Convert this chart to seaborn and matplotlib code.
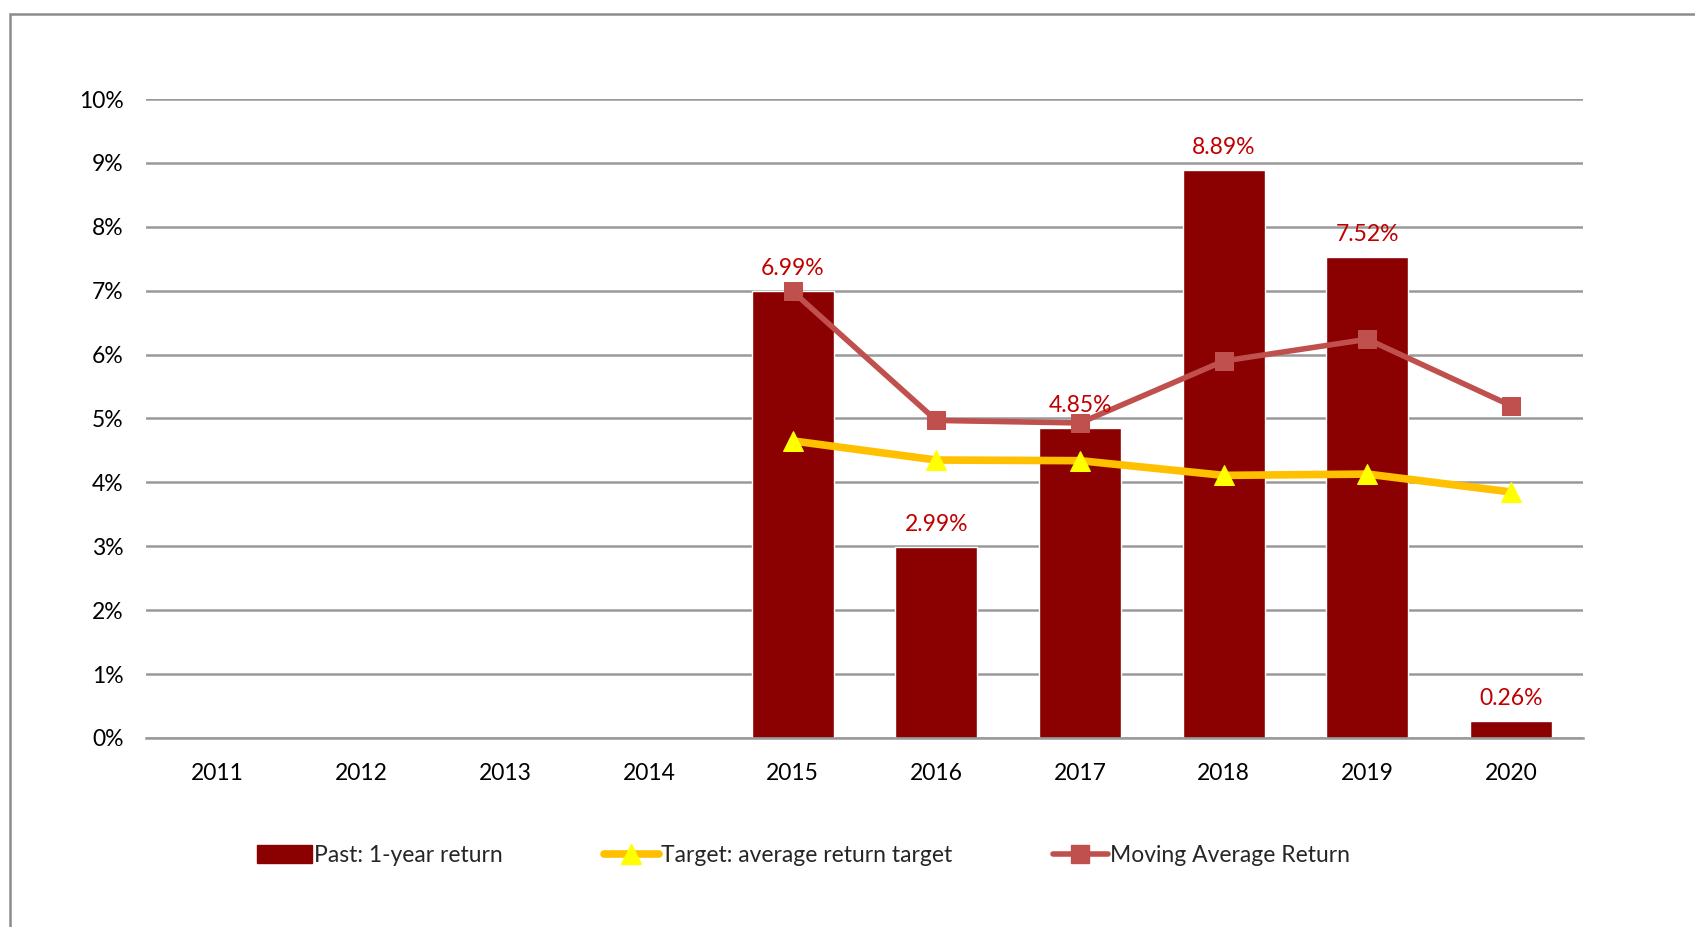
import numpy as np
import matplotlib
matplotlib.use("Agg")
import matplotlib.pyplot as plt
from matplotlib.patches import Rectangle, Patch
from matplotlib.lines import Line2D
from matplotlib.ticker import FuncFormatter
import seaborn as sns
import pandas as pd

# データ
years = ["2011", "2012", "2013", "2014", "2015", "2016", "2017", "2018", "2019", "2020"]
past_return = [np.nan, np.nan, np.nan, np.nan, 6.99, 2.99, 4.85, 8.89, 7.52, 0.26]
line_years = ["2015", "2016", "2017", "2018", "2019", "2020"]
target_return = [4.65, 4.35, 4.34, 4.11, 4.13, 3.85]
moving_avg = [6.99, 4.97, 4.93, 5.90, 6.24, 5.20]

bar_color = "#8B0000"
label_color = "#C00000"
target_color = "#FFC000"
marker_yellow = "#FFFF00"
ma_color = "#C0504D"
grid_color = "#999999"
fs = 16.5

sns.set_theme(style="white")
plt.rcParams["font.family"] = ["Lato", "DejaVu Sans"]

fig = plt.figure(figsize=(16.95, 9.27), dpi=100)
ax = fig.add_axes([0.0861, 0.2039, 0.8478, 0.6893])

df_bar = pd.DataFrame({"year": years, "ret": past_return})
sns.barplot(data=df_bar, x="year", y="ret", order=years, color=bar_color,
            width=0.57, saturation=1, ax=ax, zorder=2)

pos = [years.index(y) for y in line_years]
df_line = pd.DataFrame({"pos": pos, "target": target_return, "ma": moving_avg})
sns.lineplot(data=df_line, x="pos", y="target", color=target_color, linewidth=5.5,
             marker="^", markersize=15, markerfacecolor=marker_yellow,
             markeredgecolor=marker_yellow, ax=ax, zorder=3)
sns.lineplot(data=df_line, x="pos", y="ma", color=ma_color, linewidth=4,
             marker="s", markersize=13, markerfacecolor=ma_color,
             markeredgecolor=ma_color, ax=ax, zorder=4)

# 棒の上のラベル
for i, v in enumerate(past_return):
    if not np.isnan(v):
        ax.text(i, v + 0.19, f"{v:.2f}%", ha="center", va="bottom",
                color=label_color, fontsize=fs, zorder=5)

ax.set_xlim(-0.5, 9.5)
ax.set_ylim(0, 10)
ax.set_yticks(range(0, 11))
ax.yaxis.set_major_formatter(FuncFormatter(lambda v, p: f"{int(v)}%"))
ax.yaxis.grid(True, color=grid_color, linewidth=1.8, zorder=0)
ax.set_axisbelow(True)
for s in ["top", "right", "left"]:
    ax.spines[s].set_visible(False)
ax.spines["bottom"].set_color(grid_color)
ax.spines["bottom"].set_linewidth(1.8)
ax.set_xlabel("")
ax.set_ylabel("")
ax.tick_params(axis="both", length=0, labelsize=fs, colors="black")
ax.tick_params(axis="y", pad=16)
ax.tick_params(axis="x", pad=18)

handles = [
    Patch(facecolor=bar_color, edgecolor=bar_color),
    Line2D([0], [0], color=target_color, linewidth=5.5, marker="^", markersize=15,
           markerfacecolor=marker_yellow, markeredgecolor=marker_yellow),
    Line2D([0], [0], color=ma_color, linewidth=4, marker="s", markersize=13,
           markerfacecolor=ma_color, markeredgecolor=ma_color),
]
labels = ["Past: 1-year return", "Target: average return target", "Moving Average Return"]
fig.legend(handles, labels, loc="center", bbox_to_anchor=(0.474, 0.077), ncol=3,
           frameon=False, fontsize=fs, columnspacing=4.4, handlelength=2.4,
           handletextpad=0.1, handleheight=0.8)

# 外枠
fig.patches.append(Rectangle((10 / 1695, -0.2), 1.2, 1.2 - 14 / 927,
                             transform=fig.transFigure, fill=False,
                             edgecolor="#8c8c8c", linewidth=1.8, zorder=0))

fig.savefig("out.png", dpi=100)
